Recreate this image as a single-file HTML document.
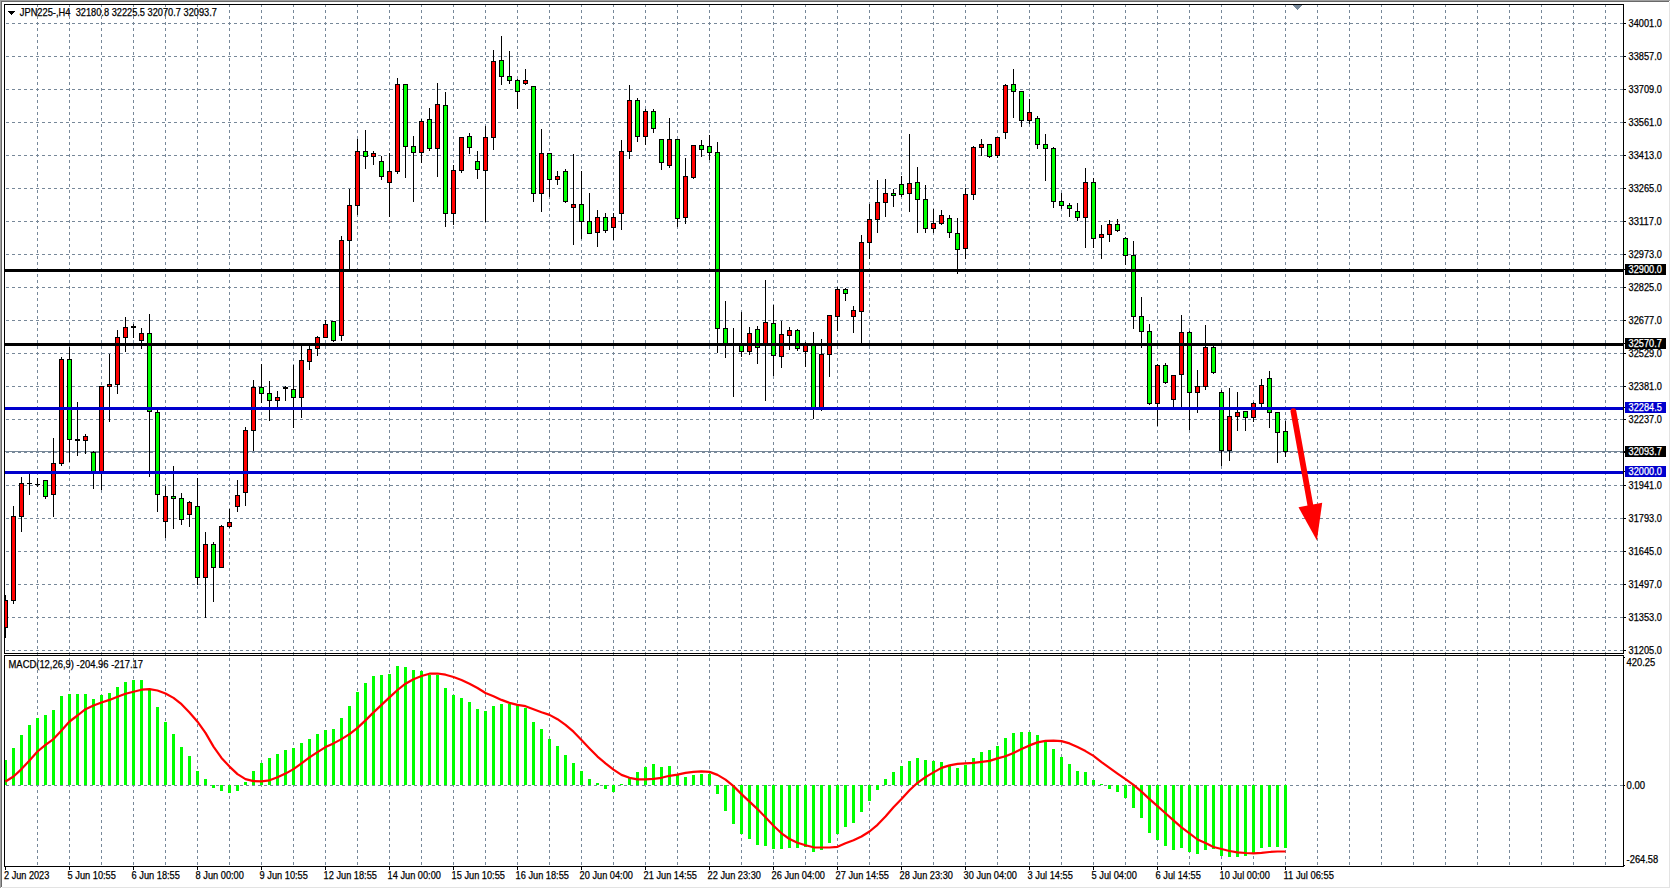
<!DOCTYPE html>
<html><head><meta charset="utf-8"><title>JPN225-,H4</title>
<style>
html,body{margin:0;padding:0;background:#fff;}
body{width:1671px;height:889px;overflow:hidden;}
svg{display:block;}
text{font-family:"Liberation Sans",Arial,sans-serif;font-size:10.2px;fill:#000;stroke:#000;stroke-width:0.25px;}
.w{fill:#fff;stroke:#fff;}
</style></head><body>
<svg width="1671" height="889" viewBox="0 0 1671 889" shape-rendering="crispEdges">
<rect x="0" y="0" width="1671" height="889" fill="#fff"/>
<g stroke="#778899" stroke-width="1" stroke-dasharray="3 3" fill="none">
<line x1="0" y1="23.5" x2="1623" y2="23.5"/>
<line x1="0" y1="56.5" x2="1623" y2="56.5"/>
<line x1="0" y1="89.5" x2="1623" y2="89.5"/>
<line x1="0" y1="122.5" x2="1623" y2="122.5"/>
<line x1="0" y1="155.5" x2="1623" y2="155.5"/>
<line x1="0" y1="188.5" x2="1623" y2="188.5"/>
<line x1="0" y1="221.5" x2="1623" y2="221.5"/>
<line x1="0" y1="254.5" x2="1623" y2="254.5"/>
<line x1="0" y1="287.5" x2="1623" y2="287.5"/>
<line x1="0" y1="320.5" x2="1623" y2="320.5"/>
<line x1="0" y1="353.5" x2="1623" y2="353.5"/>
<line x1="0" y1="386.5" x2="1623" y2="386.5"/>
<line x1="0" y1="419.5" x2="1623" y2="419.5"/>
<line x1="0" y1="452.5" x2="1623" y2="452.5"/>
<line x1="0" y1="485.5" x2="1623" y2="485.5"/>
<line x1="0" y1="518.5" x2="1623" y2="518.5"/>
<line x1="0" y1="551.5" x2="1623" y2="551.5"/>
<line x1="0" y1="584.5" x2="1623" y2="584.5"/>
<line x1="0" y1="617.5" x2="1623" y2="617.5"/>
<line x1="0" y1="650.5" x2="1623" y2="650.5"/>
<line x1="0" y1="785.5" x2="1623" y2="785.5"/>
<line x1="37.5" y1="4" x2="37.5" y2="866"/>
<line x1="69.5" y1="4" x2="69.5" y2="866"/>
<line x1="101.5" y1="4" x2="101.5" y2="866"/>
<line x1="133.5" y1="4" x2="133.5" y2="866"/>
<line x1="165.5" y1="4" x2="165.5" y2="866"/>
<line x1="197.5" y1="4" x2="197.5" y2="866"/>
<line x1="229.5" y1="4" x2="229.5" y2="866"/>
<line x1="261.5" y1="4" x2="261.5" y2="866"/>
<line x1="293.5" y1="4" x2="293.5" y2="866"/>
<line x1="325.5" y1="4" x2="325.5" y2="866"/>
<line x1="357.5" y1="4" x2="357.5" y2="866"/>
<line x1="389.5" y1="4" x2="389.5" y2="866"/>
<line x1="421.5" y1="4" x2="421.5" y2="866"/>
<line x1="453.5" y1="4" x2="453.5" y2="866"/>
<line x1="485.5" y1="4" x2="485.5" y2="866"/>
<line x1="517.5" y1="4" x2="517.5" y2="866"/>
<line x1="549.5" y1="4" x2="549.5" y2="866"/>
<line x1="581.5" y1="4" x2="581.5" y2="866"/>
<line x1="613.5" y1="4" x2="613.5" y2="866"/>
<line x1="645.5" y1="4" x2="645.5" y2="866"/>
<line x1="677.5" y1="4" x2="677.5" y2="866"/>
<line x1="709.5" y1="4" x2="709.5" y2="866"/>
<line x1="741.5" y1="4" x2="741.5" y2="866"/>
<line x1="773.5" y1="4" x2="773.5" y2="866"/>
<line x1="805.5" y1="4" x2="805.5" y2="866"/>
<line x1="837.5" y1="4" x2="837.5" y2="866"/>
<line x1="869.5" y1="4" x2="869.5" y2="866"/>
<line x1="901.5" y1="4" x2="901.5" y2="866"/>
<line x1="933.5" y1="4" x2="933.5" y2="866"/>
<line x1="965.5" y1="4" x2="965.5" y2="866"/>
<line x1="997.5" y1="4" x2="997.5" y2="866"/>
<line x1="1029.5" y1="4" x2="1029.5" y2="866"/>
<line x1="1061.5" y1="4" x2="1061.5" y2="866"/>
<line x1="1093.5" y1="4" x2="1093.5" y2="866"/>
<line x1="1125.5" y1="4" x2="1125.5" y2="866"/>
<line x1="1157.5" y1="4" x2="1157.5" y2="866"/>
<line x1="1189.5" y1="4" x2="1189.5" y2="866"/>
<line x1="1221.5" y1="4" x2="1221.5" y2="866"/>
<line x1="1253.5" y1="4" x2="1253.5" y2="866"/>
<line x1="1285.5" y1="4" x2="1285.5" y2="866"/>
<line x1="1317.5" y1="4" x2="1317.5" y2="866"/>
<line x1="1349.5" y1="4" x2="1349.5" y2="866"/>
<line x1="1381.5" y1="4" x2="1381.5" y2="866"/>
<line x1="1413.5" y1="4" x2="1413.5" y2="866"/>
<line x1="1445.5" y1="4" x2="1445.5" y2="866"/>
<line x1="1477.5" y1="4" x2="1477.5" y2="866"/>
<line x1="1509.5" y1="4" x2="1509.5" y2="866"/>
<line x1="1541.5" y1="4" x2="1541.5" y2="866"/>
<line x1="1573.5" y1="4" x2="1573.5" y2="866"/>
<line x1="1605.5" y1="4" x2="1605.5" y2="866"/>
</g>
<rect x="5" y="451" width="1618" height="1" fill="#778899"/>
<g>
<rect x="5" y="595" width="1" height="43" fill="#000"/>
<rect x="3" y="600" width="5" height="28" fill="#000"/>
<rect x="4" y="601" width="3" height="26" fill="#ff0000"/>
<rect x="13" y="506" width="1" height="98" fill="#000"/>
<rect x="11" y="516" width="5" height="85" fill="#000"/>
<rect x="12" y="517" width="3" height="83" fill="#ff0000"/>
<rect x="21" y="477" width="1" height="55" fill="#000"/>
<rect x="19" y="483" width="5" height="34" fill="#000"/>
<rect x="20" y="484" width="3" height="32" fill="#ff0000"/>
<rect x="29" y="474" width="1" height="21" fill="#000"/>
<rect x="27" y="483" width="5" height="1" fill="#000"/>
<rect x="37" y="478" width="1" height="9" fill="#000"/>
<rect x="35" y="484" width="5" height="1" fill="#000"/>
<rect x="45" y="480" width="1" height="19" fill="#000"/>
<rect x="43" y="480" width="5" height="17" fill="#000"/>
<rect x="44" y="481" width="3" height="15" fill="#00ff00"/>
<rect x="53" y="438" width="1" height="79" fill="#000"/>
<rect x="51" y="463" width="5" height="32" fill="#000"/>
<rect x="52" y="464" width="3" height="30" fill="#ff0000"/>
<rect x="61" y="357" width="1" height="109" fill="#000"/>
<rect x="59" y="359" width="5" height="105" fill="#000"/>
<rect x="60" y="360" width="3" height="103" fill="#ff0000"/>
<rect x="69" y="347" width="1" height="115" fill="#000"/>
<rect x="67" y="359" width="5" height="81" fill="#000"/>
<rect x="68" y="360" width="3" height="79" fill="#00ff00"/>
<rect x="77" y="402" width="1" height="54" fill="#000"/>
<rect x="75" y="439" width="5" height="2" fill="#000"/>
<rect x="85" y="434" width="1" height="20" fill="#000"/>
<rect x="83" y="436" width="5" height="5" fill="#000"/>
<rect x="84" y="437" width="3" height="3" fill="#ff0000"/>
<rect x="93" y="451" width="1" height="38" fill="#000"/>
<rect x="91" y="452" width="5" height="20" fill="#000"/>
<rect x="92" y="453" width="3" height="18" fill="#00ff00"/>
<rect x="101" y="386" width="1" height="104" fill="#000"/>
<rect x="99" y="386" width="5" height="86" fill="#000"/>
<rect x="100" y="387" width="3" height="84" fill="#ff0000"/>
<rect x="109" y="354" width="1" height="68" fill="#000"/>
<rect x="107" y="384" width="5" height="3" fill="#000"/>
<rect x="108" y="385" width="3" height="1" fill="#ff0000"/>
<rect x="117" y="330" width="1" height="64" fill="#000"/>
<rect x="115" y="337" width="5" height="48" fill="#000"/>
<rect x="116" y="338" width="3" height="46" fill="#ff0000"/>
<rect x="125" y="317" width="1" height="35" fill="#000"/>
<rect x="123" y="327" width="5" height="11" fill="#000"/>
<rect x="124" y="328" width="3" height="9" fill="#ff0000"/>
<rect x="133" y="324" width="1" height="14" fill="#000"/>
<rect x="131" y="326" width="5" height="2" fill="#000"/>
<rect x="141" y="328" width="1" height="21" fill="#000"/>
<rect x="139" y="333" width="5" height="8" fill="#000"/>
<rect x="140" y="334" width="3" height="6" fill="#ff0000"/>
<rect x="149" y="314" width="1" height="163" fill="#000"/>
<rect x="147" y="333" width="5" height="79" fill="#000"/>
<rect x="148" y="334" width="3" height="77" fill="#00ff00"/>
<rect x="157" y="410" width="1" height="102" fill="#000"/>
<rect x="155" y="412" width="5" height="83" fill="#000"/>
<rect x="156" y="413" width="3" height="81" fill="#00ff00"/>
<rect x="165" y="486" width="1" height="52" fill="#000"/>
<rect x="163" y="496" width="5" height="26" fill="#000"/>
<rect x="164" y="497" width="3" height="24" fill="#ff0000"/>
<rect x="173" y="466" width="1" height="63" fill="#000"/>
<rect x="171" y="496" width="5" height="3" fill="#000"/>
<rect x="172" y="497" width="3" height="1" fill="#00ff00"/>
<rect x="181" y="493" width="1" height="32" fill="#000"/>
<rect x="179" y="498" width="5" height="22" fill="#000"/>
<rect x="180" y="499" width="3" height="20" fill="#00ff00"/>
<rect x="189" y="501" width="1" height="26" fill="#000"/>
<rect x="187" y="502" width="5" height="13" fill="#000"/>
<rect x="188" y="503" width="3" height="11" fill="#ff0000"/>
<rect x="197" y="478" width="1" height="107" fill="#000"/>
<rect x="195" y="506" width="5" height="72" fill="#000"/>
<rect x="196" y="507" width="3" height="70" fill="#00ff00"/>
<rect x="205" y="532" width="1" height="86" fill="#000"/>
<rect x="203" y="544" width="5" height="34" fill="#000"/>
<rect x="204" y="545" width="3" height="32" fill="#ff0000"/>
<rect x="213" y="542" width="1" height="60" fill="#000"/>
<rect x="211" y="544" width="5" height="24" fill="#000"/>
<rect x="212" y="545" width="3" height="22" fill="#00ff00"/>
<rect x="221" y="525" width="1" height="43" fill="#000"/>
<rect x="219" y="526" width="5" height="42" fill="#000"/>
<rect x="220" y="527" width="3" height="40" fill="#ff0000"/>
<rect x="229" y="509" width="1" height="19" fill="#000"/>
<rect x="227" y="522" width="5" height="5" fill="#000"/>
<rect x="228" y="523" width="3" height="3" fill="#ff0000"/>
<rect x="237" y="480" width="1" height="32" fill="#000"/>
<rect x="235" y="495" width="5" height="12" fill="#000"/>
<rect x="236" y="496" width="3" height="10" fill="#ff0000"/>
<rect x="245" y="427" width="1" height="79" fill="#000"/>
<rect x="243" y="430" width="5" height="63" fill="#000"/>
<rect x="244" y="431" width="3" height="61" fill="#ff0000"/>
<rect x="253" y="380" width="1" height="71" fill="#000"/>
<rect x="251" y="387" width="5" height="44" fill="#000"/>
<rect x="252" y="388" width="3" height="42" fill="#ff0000"/>
<rect x="261" y="364" width="1" height="39" fill="#000"/>
<rect x="259" y="387" width="5" height="7" fill="#000"/>
<rect x="260" y="388" width="3" height="5" fill="#00ff00"/>
<rect x="269" y="381" width="1" height="40" fill="#000"/>
<rect x="267" y="393" width="5" height="8" fill="#000"/>
<rect x="268" y="394" width="3" height="6" fill="#00ff00"/>
<rect x="277" y="391" width="1" height="17" fill="#000"/>
<rect x="275" y="397" width="5" height="4" fill="#000"/>
<rect x="276" y="398" width="3" height="2" fill="#ff0000"/>
<rect x="285" y="386" width="1" height="15" fill="#000"/>
<rect x="283" y="387" width="5" height="2" fill="#000"/>
<rect x="293" y="365" width="1" height="63" fill="#000"/>
<rect x="291" y="389" width="5" height="9" fill="#000"/>
<rect x="292" y="390" width="3" height="7" fill="#00ff00"/>
<rect x="301" y="345" width="1" height="73" fill="#000"/>
<rect x="299" y="360" width="5" height="38" fill="#000"/>
<rect x="300" y="361" width="3" height="36" fill="#ff0000"/>
<rect x="309" y="345" width="1" height="25" fill="#000"/>
<rect x="307" y="349" width="5" height="13" fill="#000"/>
<rect x="308" y="350" width="3" height="11" fill="#ff0000"/>
<rect x="317" y="336" width="1" height="20" fill="#000"/>
<rect x="315" y="337" width="5" height="12" fill="#000"/>
<rect x="316" y="338" width="3" height="10" fill="#ff0000"/>
<rect x="325" y="320" width="1" height="18" fill="#000"/>
<rect x="323" y="324" width="5" height="14" fill="#000"/>
<rect x="324" y="325" width="3" height="12" fill="#ff0000"/>
<rect x="333" y="321" width="1" height="21" fill="#000"/>
<rect x="331" y="321" width="5" height="20" fill="#000"/>
<rect x="332" y="322" width="3" height="18" fill="#00ff00"/>
<rect x="341" y="236" width="1" height="105" fill="#000"/>
<rect x="339" y="240" width="5" height="96" fill="#000"/>
<rect x="340" y="241" width="3" height="94" fill="#ff0000"/>
<rect x="349" y="189" width="1" height="82" fill="#000"/>
<rect x="347" y="205" width="5" height="36" fill="#000"/>
<rect x="348" y="206" width="3" height="34" fill="#ff0000"/>
<rect x="357" y="139" width="1" height="76" fill="#000"/>
<rect x="355" y="151" width="5" height="55" fill="#000"/>
<rect x="356" y="152" width="3" height="53" fill="#ff0000"/>
<rect x="365" y="130" width="1" height="39" fill="#000"/>
<rect x="363" y="151" width="5" height="6" fill="#000"/>
<rect x="364" y="152" width="3" height="4" fill="#00ff00"/>
<rect x="373" y="151" width="1" height="14" fill="#000"/>
<rect x="371" y="153" width="5" height="4" fill="#000"/>
<rect x="372" y="154" width="3" height="2" fill="#ff0000"/>
<rect x="381" y="156" width="1" height="24" fill="#000"/>
<rect x="379" y="161" width="5" height="16" fill="#000"/>
<rect x="380" y="162" width="3" height="14" fill="#00ff00"/>
<rect x="389" y="153" width="1" height="64" fill="#000"/>
<rect x="387" y="171" width="5" height="12" fill="#000"/>
<rect x="388" y="172" width="3" height="10" fill="#ff0000"/>
<rect x="397" y="78" width="1" height="96" fill="#000"/>
<rect x="395" y="84" width="5" height="88" fill="#000"/>
<rect x="396" y="85" width="3" height="86" fill="#ff0000"/>
<rect x="405" y="84" width="1" height="94" fill="#000"/>
<rect x="403" y="84" width="5" height="63" fill="#000"/>
<rect x="404" y="85" width="3" height="61" fill="#00ff00"/>
<rect x="413" y="136" width="1" height="66" fill="#000"/>
<rect x="411" y="146" width="5" height="7" fill="#000"/>
<rect x="412" y="147" width="3" height="5" fill="#00ff00"/>
<rect x="421" y="119" width="1" height="44" fill="#000"/>
<rect x="419" y="121" width="5" height="32" fill="#000"/>
<rect x="420" y="122" width="3" height="30" fill="#ff0000"/>
<rect x="429" y="108" width="1" height="43" fill="#000"/>
<rect x="427" y="119" width="5" height="30" fill="#000"/>
<rect x="428" y="120" width="3" height="28" fill="#00ff00"/>
<rect x="437" y="83" width="1" height="94" fill="#000"/>
<rect x="435" y="104" width="5" height="45" fill="#000"/>
<rect x="436" y="105" width="3" height="43" fill="#ff0000"/>
<rect x="445" y="92" width="1" height="135" fill="#000"/>
<rect x="443" y="105" width="5" height="109" fill="#000"/>
<rect x="444" y="106" width="3" height="107" fill="#00ff00"/>
<rect x="453" y="165" width="1" height="60" fill="#000"/>
<rect x="451" y="170" width="5" height="44" fill="#000"/>
<rect x="452" y="171" width="3" height="42" fill="#ff0000"/>
<rect x="461" y="137" width="1" height="36" fill="#000"/>
<rect x="459" y="137" width="5" height="34" fill="#000"/>
<rect x="460" y="138" width="3" height="32" fill="#ff0000"/>
<rect x="469" y="133" width="1" height="21" fill="#000"/>
<rect x="467" y="136" width="5" height="12" fill="#000"/>
<rect x="468" y="137" width="3" height="10" fill="#00ff00"/>
<rect x="477" y="151" width="1" height="28" fill="#000"/>
<rect x="475" y="161" width="5" height="9" fill="#000"/>
<rect x="476" y="162" width="3" height="7" fill="#00ff00"/>
<rect x="485" y="126" width="1" height="96" fill="#000"/>
<rect x="483" y="137" width="5" height="34" fill="#000"/>
<rect x="484" y="138" width="3" height="32" fill="#ff0000"/>
<rect x="493" y="50" width="1" height="100" fill="#000"/>
<rect x="491" y="61" width="5" height="77" fill="#000"/>
<rect x="492" y="62" width="3" height="75" fill="#ff0000"/>
<rect x="501" y="36" width="1" height="49" fill="#000"/>
<rect x="499" y="60" width="5" height="17" fill="#000"/>
<rect x="500" y="61" width="3" height="15" fill="#00ff00"/>
<rect x="509" y="51" width="1" height="33" fill="#000"/>
<rect x="507" y="76" width="5" height="5" fill="#000"/>
<rect x="508" y="77" width="3" height="3" fill="#00ff00"/>
<rect x="517" y="79" width="1" height="30" fill="#000"/>
<rect x="515" y="80" width="5" height="12" fill="#000"/>
<rect x="516" y="81" width="3" height="10" fill="#00ff00"/>
<rect x="525" y="69" width="1" height="16" fill="#000"/>
<rect x="523" y="80" width="5" height="4" fill="#000"/>
<rect x="524" y="81" width="3" height="2" fill="#ff0000"/>
<rect x="533" y="86" width="1" height="116" fill="#000"/>
<rect x="531" y="86" width="5" height="108" fill="#000"/>
<rect x="532" y="87" width="3" height="106" fill="#00ff00"/>
<rect x="541" y="129" width="1" height="83" fill="#000"/>
<rect x="539" y="153" width="5" height="41" fill="#000"/>
<rect x="540" y="154" width="3" height="39" fill="#ff0000"/>
<rect x="549" y="153" width="1" height="44" fill="#000"/>
<rect x="547" y="153" width="5" height="27" fill="#000"/>
<rect x="548" y="154" width="3" height="25" fill="#00ff00"/>
<rect x="557" y="171" width="1" height="14" fill="#000"/>
<rect x="555" y="176" width="5" height="4" fill="#000"/>
<rect x="556" y="177" width="3" height="2" fill="#ff0000"/>
<rect x="565" y="169" width="1" height="34" fill="#000"/>
<rect x="563" y="171" width="5" height="31" fill="#000"/>
<rect x="564" y="172" width="3" height="29" fill="#00ff00"/>
<rect x="573" y="154" width="1" height="91" fill="#000"/>
<rect x="571" y="204" width="5" height="4" fill="#000"/>
<rect x="572" y="205" width="3" height="2" fill="#ff0000"/>
<rect x="581" y="171" width="1" height="68" fill="#000"/>
<rect x="579" y="204" width="5" height="18" fill="#000"/>
<rect x="580" y="205" width="3" height="16" fill="#00ff00"/>
<rect x="589" y="193" width="1" height="41" fill="#000"/>
<rect x="587" y="221" width="5" height="13" fill="#000"/>
<rect x="588" y="222" width="3" height="11" fill="#00ff00"/>
<rect x="597" y="210" width="1" height="37" fill="#000"/>
<rect x="595" y="217" width="5" height="16" fill="#000"/>
<rect x="596" y="218" width="3" height="14" fill="#ff0000"/>
<rect x="605" y="213" width="1" height="20" fill="#000"/>
<rect x="603" y="217" width="5" height="14" fill="#000"/>
<rect x="604" y="218" width="3" height="12" fill="#00ff00"/>
<rect x="613" y="213" width="1" height="27" fill="#000"/>
<rect x="611" y="217" width="5" height="11" fill="#000"/>
<rect x="612" y="218" width="3" height="9" fill="#ff0000"/>
<rect x="621" y="140" width="1" height="90" fill="#000"/>
<rect x="619" y="151" width="5" height="63" fill="#000"/>
<rect x="620" y="152" width="3" height="61" fill="#ff0000"/>
<rect x="629" y="85" width="1" height="74" fill="#000"/>
<rect x="627" y="100" width="5" height="52" fill="#000"/>
<rect x="628" y="101" width="3" height="50" fill="#ff0000"/>
<rect x="637" y="98" width="1" height="44" fill="#000"/>
<rect x="635" y="100" width="5" height="37" fill="#000"/>
<rect x="636" y="101" width="3" height="35" fill="#00ff00"/>
<rect x="645" y="109" width="1" height="36" fill="#000"/>
<rect x="643" y="111" width="5" height="26" fill="#000"/>
<rect x="644" y="112" width="3" height="24" fill="#ff0000"/>
<rect x="653" y="109" width="1" height="24" fill="#000"/>
<rect x="651" y="111" width="5" height="18" fill="#000"/>
<rect x="652" y="112" width="3" height="16" fill="#00ff00"/>
<rect x="661" y="139" width="1" height="31" fill="#000"/>
<rect x="659" y="139" width="5" height="24" fill="#000"/>
<rect x="660" y="140" width="3" height="22" fill="#00ff00"/>
<rect x="669" y="118" width="1" height="50" fill="#000"/>
<rect x="667" y="139" width="5" height="27" fill="#000"/>
<rect x="668" y="140" width="3" height="25" fill="#ff0000"/>
<rect x="677" y="139" width="1" height="88" fill="#000"/>
<rect x="675" y="139" width="5" height="80" fill="#000"/>
<rect x="676" y="140" width="3" height="78" fill="#00ff00"/>
<rect x="685" y="158" width="1" height="66" fill="#000"/>
<rect x="683" y="176" width="5" height="42" fill="#000"/>
<rect x="684" y="177" width="3" height="40" fill="#ff0000"/>
<rect x="693" y="145" width="1" height="34" fill="#000"/>
<rect x="691" y="145" width="5" height="33" fill="#000"/>
<rect x="692" y="146" width="3" height="31" fill="#ff0000"/>
<rect x="701" y="140" width="1" height="17" fill="#000"/>
<rect x="699" y="145" width="5" height="5" fill="#000"/>
<rect x="700" y="146" width="3" height="3" fill="#00ff00"/>
<rect x="709" y="135" width="1" height="25" fill="#000"/>
<rect x="707" y="146" width="5" height="7" fill="#000"/>
<rect x="708" y="147" width="3" height="5" fill="#00ff00"/>
<rect x="717" y="142" width="1" height="211" fill="#000"/>
<rect x="715" y="152" width="5" height="177" fill="#000"/>
<rect x="716" y="153" width="3" height="175" fill="#00ff00"/>
<rect x="725" y="301" width="1" height="57" fill="#000"/>
<rect x="723" y="328" width="5" height="17" fill="#000"/>
<rect x="724" y="329" width="3" height="15" fill="#00ff00"/>
<rect x="733" y="328" width="1" height="69" fill="#000"/>
<rect x="731" y="344" width="5" height="1" fill="#000"/>
<rect x="741" y="312" width="1" height="45" fill="#000"/>
<rect x="739" y="344" width="5" height="8" fill="#000"/>
<rect x="740" y="345" width="3" height="6" fill="#00ff00"/>
<rect x="749" y="327" width="1" height="28" fill="#000"/>
<rect x="747" y="333" width="5" height="19" fill="#000"/>
<rect x="748" y="334" width="3" height="17" fill="#ff0000"/>
<rect x="757" y="326" width="1" height="38" fill="#000"/>
<rect x="755" y="329" width="5" height="19" fill="#000"/>
<rect x="756" y="330" width="3" height="17" fill="#00ff00"/>
<rect x="765" y="280" width="1" height="121" fill="#000"/>
<rect x="763" y="322" width="5" height="24" fill="#000"/>
<rect x="764" y="323" width="3" height="22" fill="#ff0000"/>
<rect x="773" y="305" width="1" height="71" fill="#000"/>
<rect x="771" y="323" width="5" height="33" fill="#000"/>
<rect x="772" y="324" width="3" height="31" fill="#00ff00"/>
<rect x="781" y="321" width="1" height="47" fill="#000"/>
<rect x="779" y="334" width="5" height="23" fill="#000"/>
<rect x="780" y="335" width="3" height="21" fill="#ff0000"/>
<rect x="789" y="327" width="1" height="23" fill="#000"/>
<rect x="787" y="330" width="5" height="6" fill="#000"/>
<rect x="788" y="331" width="3" height="4" fill="#ff0000"/>
<rect x="797" y="329" width="1" height="22" fill="#000"/>
<rect x="795" y="330" width="5" height="19" fill="#000"/>
<rect x="796" y="331" width="3" height="17" fill="#00ff00"/>
<rect x="805" y="342" width="1" height="25" fill="#000"/>
<rect x="803" y="343" width="5" height="9" fill="#000"/>
<rect x="804" y="344" width="3" height="7" fill="#ff0000"/>
<rect x="813" y="332" width="1" height="87" fill="#000"/>
<rect x="811" y="344" width="5" height="65" fill="#000"/>
<rect x="812" y="345" width="3" height="63" fill="#00ff00"/>
<rect x="821" y="339" width="1" height="72" fill="#000"/>
<rect x="819" y="354" width="5" height="55" fill="#000"/>
<rect x="820" y="355" width="3" height="53" fill="#ff0000"/>
<rect x="829" y="315" width="1" height="62" fill="#000"/>
<rect x="827" y="315" width="5" height="40" fill="#000"/>
<rect x="828" y="316" width="3" height="38" fill="#ff0000"/>
<rect x="837" y="287" width="1" height="44" fill="#000"/>
<rect x="835" y="289" width="5" height="28" fill="#000"/>
<rect x="836" y="290" width="3" height="26" fill="#ff0000"/>
<rect x="845" y="288" width="1" height="13" fill="#000"/>
<rect x="843" y="289" width="5" height="5" fill="#000"/>
<rect x="844" y="290" width="3" height="3" fill="#00ff00"/>
<rect x="853" y="306" width="1" height="27" fill="#000"/>
<rect x="851" y="310" width="5" height="7" fill="#000"/>
<rect x="852" y="311" width="3" height="5" fill="#ff0000"/>
<rect x="861" y="235" width="1" height="110" fill="#000"/>
<rect x="859" y="242" width="5" height="70" fill="#000"/>
<rect x="860" y="243" width="3" height="68" fill="#ff0000"/>
<rect x="869" y="204" width="1" height="55" fill="#000"/>
<rect x="867" y="219" width="5" height="24" fill="#000"/>
<rect x="868" y="220" width="3" height="22" fill="#ff0000"/>
<rect x="877" y="180" width="1" height="53" fill="#000"/>
<rect x="875" y="202" width="5" height="18" fill="#000"/>
<rect x="876" y="203" width="3" height="16" fill="#ff0000"/>
<rect x="885" y="179" width="1" height="38" fill="#000"/>
<rect x="883" y="193" width="5" height="10" fill="#000"/>
<rect x="884" y="194" width="3" height="8" fill="#ff0000"/>
<rect x="893" y="189" width="1" height="18" fill="#000"/>
<rect x="891" y="193" width="5" height="3" fill="#000"/>
<rect x="892" y="194" width="3" height="1" fill="#00ff00"/>
<rect x="901" y="176" width="1" height="21" fill="#000"/>
<rect x="899" y="184" width="5" height="11" fill="#000"/>
<rect x="900" y="185" width="3" height="9" fill="#00ff00"/>
<rect x="909" y="134" width="1" height="78" fill="#000"/>
<rect x="907" y="183" width="5" height="11" fill="#000"/>
<rect x="908" y="184" width="3" height="9" fill="#ff0000"/>
<rect x="917" y="167" width="1" height="66" fill="#000"/>
<rect x="915" y="182" width="5" height="18" fill="#000"/>
<rect x="916" y="183" width="3" height="16" fill="#00ff00"/>
<rect x="925" y="185" width="1" height="48" fill="#000"/>
<rect x="923" y="199" width="5" height="30" fill="#000"/>
<rect x="924" y="200" width="3" height="28" fill="#00ff00"/>
<rect x="933" y="209" width="1" height="24" fill="#000"/>
<rect x="931" y="223" width="5" height="6" fill="#000"/>
<rect x="932" y="224" width="3" height="4" fill="#ff0000"/>
<rect x="941" y="210" width="1" height="15" fill="#000"/>
<rect x="939" y="215" width="5" height="9" fill="#000"/>
<rect x="940" y="216" width="3" height="7" fill="#ff0000"/>
<rect x="949" y="215" width="1" height="23" fill="#000"/>
<rect x="947" y="218" width="5" height="15" fill="#000"/>
<rect x="948" y="219" width="3" height="13" fill="#00ff00"/>
<rect x="957" y="218" width="1" height="56" fill="#000"/>
<rect x="955" y="233" width="5" height="17" fill="#000"/>
<rect x="956" y="234" width="3" height="15" fill="#00ff00"/>
<rect x="965" y="188" width="1" height="71" fill="#000"/>
<rect x="963" y="194" width="5" height="55" fill="#000"/>
<rect x="964" y="195" width="3" height="53" fill="#ff0000"/>
<rect x="973" y="146" width="1" height="54" fill="#000"/>
<rect x="971" y="147" width="5" height="48" fill="#000"/>
<rect x="972" y="148" width="3" height="46" fill="#ff0000"/>
<rect x="981" y="139" width="1" height="17" fill="#000"/>
<rect x="979" y="144" width="5" height="4" fill="#000"/>
<rect x="980" y="145" width="3" height="2" fill="#ff0000"/>
<rect x="989" y="144" width="1" height="14" fill="#000"/>
<rect x="987" y="144" width="5" height="13" fill="#000"/>
<rect x="988" y="145" width="3" height="11" fill="#00ff00"/>
<rect x="997" y="137" width="1" height="21" fill="#000"/>
<rect x="995" y="137" width="5" height="19" fill="#000"/>
<rect x="996" y="138" width="3" height="17" fill="#ff0000"/>
<rect x="1005" y="84" width="1" height="55" fill="#000"/>
<rect x="1003" y="85" width="5" height="48" fill="#000"/>
<rect x="1004" y="86" width="3" height="46" fill="#ff0000"/>
<rect x="1013" y="69" width="1" height="49" fill="#000"/>
<rect x="1011" y="84" width="5" height="8" fill="#000"/>
<rect x="1012" y="85" width="3" height="6" fill="#00ff00"/>
<rect x="1021" y="91" width="1" height="36" fill="#000"/>
<rect x="1019" y="91" width="5" height="30" fill="#000"/>
<rect x="1020" y="92" width="3" height="28" fill="#00ff00"/>
<rect x="1029" y="99" width="1" height="25" fill="#000"/>
<rect x="1027" y="112" width="5" height="9" fill="#000"/>
<rect x="1028" y="113" width="3" height="7" fill="#ff0000"/>
<rect x="1037" y="116" width="1" height="33" fill="#000"/>
<rect x="1035" y="118" width="5" height="27" fill="#000"/>
<rect x="1036" y="119" width="3" height="25" fill="#00ff00"/>
<rect x="1045" y="134" width="1" height="47" fill="#000"/>
<rect x="1043" y="144" width="5" height="5" fill="#000"/>
<rect x="1044" y="145" width="3" height="3" fill="#00ff00"/>
<rect x="1053" y="147" width="1" height="61" fill="#000"/>
<rect x="1051" y="148" width="5" height="54" fill="#000"/>
<rect x="1052" y="149" width="3" height="52" fill="#00ff00"/>
<rect x="1061" y="193" width="1" height="16" fill="#000"/>
<rect x="1059" y="201" width="5" height="5" fill="#000"/>
<rect x="1060" y="202" width="3" height="3" fill="#00ff00"/>
<rect x="1069" y="203" width="1" height="14" fill="#000"/>
<rect x="1067" y="205" width="5" height="4" fill="#000"/>
<rect x="1068" y="206" width="3" height="2" fill="#00ff00"/>
<rect x="1077" y="203" width="1" height="18" fill="#000"/>
<rect x="1075" y="211" width="5" height="7" fill="#000"/>
<rect x="1076" y="212" width="3" height="5" fill="#00ff00"/>
<rect x="1085" y="168" width="1" height="80" fill="#000"/>
<rect x="1083" y="182" width="5" height="36" fill="#000"/>
<rect x="1084" y="183" width="3" height="34" fill="#ff0000"/>
<rect x="1093" y="178" width="1" height="70" fill="#000"/>
<rect x="1091" y="182" width="5" height="57" fill="#000"/>
<rect x="1092" y="183" width="3" height="55" fill="#00ff00"/>
<rect x="1101" y="225" width="1" height="34" fill="#000"/>
<rect x="1099" y="234" width="5" height="4" fill="#000"/>
<rect x="1100" y="235" width="3" height="2" fill="#ff0000"/>
<rect x="1109" y="220" width="1" height="22" fill="#000"/>
<rect x="1107" y="224" width="5" height="11" fill="#000"/>
<rect x="1108" y="225" width="3" height="9" fill="#ff0000"/>
<rect x="1117" y="219" width="1" height="13" fill="#000"/>
<rect x="1115" y="224" width="5" height="7" fill="#000"/>
<rect x="1116" y="225" width="3" height="5" fill="#00ff00"/>
<rect x="1125" y="237" width="1" height="28" fill="#000"/>
<rect x="1123" y="238" width="5" height="18" fill="#000"/>
<rect x="1124" y="239" width="3" height="16" fill="#00ff00"/>
<rect x="1133" y="241" width="1" height="88" fill="#000"/>
<rect x="1131" y="255" width="5" height="62" fill="#000"/>
<rect x="1132" y="256" width="3" height="60" fill="#00ff00"/>
<rect x="1141" y="297" width="1" height="51" fill="#000"/>
<rect x="1139" y="316" width="5" height="16" fill="#000"/>
<rect x="1140" y="317" width="3" height="14" fill="#00ff00"/>
<rect x="1149" y="324" width="1" height="81" fill="#000"/>
<rect x="1147" y="331" width="5" height="73" fill="#000"/>
<rect x="1148" y="332" width="3" height="71" fill="#00ff00"/>
<rect x="1157" y="364" width="1" height="62" fill="#000"/>
<rect x="1155" y="365" width="5" height="39" fill="#000"/>
<rect x="1156" y="366" width="3" height="37" fill="#ff0000"/>
<rect x="1165" y="363" width="1" height="21" fill="#000"/>
<rect x="1163" y="365" width="5" height="18" fill="#000"/>
<rect x="1164" y="366" width="3" height="16" fill="#00ff00"/>
<rect x="1173" y="375" width="1" height="34" fill="#000"/>
<rect x="1171" y="375" width="5" height="25" fill="#000"/>
<rect x="1172" y="376" width="3" height="23" fill="#ff0000"/>
<rect x="1181" y="315" width="1" height="94" fill="#000"/>
<rect x="1179" y="332" width="5" height="43" fill="#000"/>
<rect x="1180" y="333" width="3" height="41" fill="#ff0000"/>
<rect x="1189" y="331" width="1" height="99" fill="#000"/>
<rect x="1187" y="332" width="5" height="61" fill="#000"/>
<rect x="1188" y="333" width="3" height="59" fill="#00ff00"/>
<rect x="1197" y="370" width="1" height="43" fill="#000"/>
<rect x="1195" y="386" width="5" height="7" fill="#000"/>
<rect x="1196" y="387" width="3" height="5" fill="#ff0000"/>
<rect x="1205" y="325" width="1" height="65" fill="#000"/>
<rect x="1203" y="347" width="5" height="40" fill="#000"/>
<rect x="1204" y="348" width="3" height="38" fill="#ff0000"/>
<rect x="1213" y="346" width="1" height="28" fill="#000"/>
<rect x="1211" y="347" width="5" height="26" fill="#000"/>
<rect x="1212" y="348" width="3" height="24" fill="#00ff00"/>
<rect x="1221" y="390" width="1" height="76" fill="#000"/>
<rect x="1219" y="392" width="5" height="59" fill="#000"/>
<rect x="1220" y="393" width="3" height="57" fill="#00ff00"/>
<rect x="1229" y="388" width="1" height="73" fill="#000"/>
<rect x="1227" y="416" width="5" height="35" fill="#000"/>
<rect x="1228" y="417" width="3" height="33" fill="#ff0000"/>
<rect x="1237" y="392" width="1" height="39" fill="#000"/>
<rect x="1235" y="412" width="5" height="5" fill="#000"/>
<rect x="1236" y="413" width="3" height="3" fill="#ff0000"/>
<rect x="1245" y="411" width="1" height="20" fill="#000"/>
<rect x="1243" y="411" width="5" height="7" fill="#000"/>
<rect x="1244" y="412" width="3" height="5" fill="#00ff00"/>
<rect x="1253" y="402" width="1" height="20" fill="#000"/>
<rect x="1251" y="403" width="5" height="15" fill="#000"/>
<rect x="1252" y="404" width="3" height="13" fill="#ff0000"/>
<rect x="1261" y="379" width="1" height="30" fill="#000"/>
<rect x="1259" y="385" width="5" height="19" fill="#000"/>
<rect x="1260" y="386" width="3" height="17" fill="#ff0000"/>
<rect x="1269" y="371" width="1" height="57" fill="#000"/>
<rect x="1267" y="378" width="5" height="35" fill="#000"/>
<rect x="1268" y="379" width="3" height="33" fill="#00ff00"/>
<rect x="1277" y="412" width="1" height="51" fill="#000"/>
<rect x="1275" y="412" width="5" height="21" fill="#000"/>
<rect x="1276" y="413" width="3" height="19" fill="#00ff00"/>
<rect x="1285" y="421" width="1" height="36" fill="#000"/>
<rect x="1283" y="431" width="5" height="21" fill="#000"/>
<rect x="1284" y="432" width="3" height="19" fill="#00ff00"/>
</g>
<g fill="#00ff00">
<rect x="4" y="760" width="3" height="25"/>
<rect x="12" y="748" width="3" height="37"/>
<rect x="20" y="735" width="3" height="50"/>
<rect x="28" y="725" width="3" height="60"/>
<rect x="36" y="718" width="3" height="67"/>
<rect x="44" y="715" width="3" height="70"/>
<rect x="52" y="710" width="3" height="75"/>
<rect x="60" y="696" width="3" height="89"/>
<rect x="68" y="694" width="3" height="91"/>
<rect x="76" y="694" width="3" height="91"/>
<rect x="84" y="694" width="3" height="91"/>
<rect x="92" y="699" width="3" height="86"/>
<rect x="100" y="695" width="3" height="90"/>
<rect x="108" y="693" width="3" height="92"/>
<rect x="116" y="687" width="3" height="98"/>
<rect x="124" y="682" width="3" height="103"/>
<rect x="132" y="680" width="3" height="105"/>
<rect x="140" y="680" width="3" height="105"/>
<rect x="148" y="690" width="3" height="95"/>
<rect x="156" y="707" width="3" height="78"/>
<rect x="164" y="722" width="3" height="63"/>
<rect x="172" y="734" width="3" height="51"/>
<rect x="180" y="747" width="3" height="38"/>
<rect x="188" y="756" width="3" height="29"/>
<rect x="196" y="771" width="3" height="14"/>
<rect x="204" y="779" width="3" height="6"/>
<rect x="212" y="785" width="3" height="3"/>
<rect x="220" y="785" width="3" height="6"/>
<rect x="228" y="785" width="3" height="8"/>
<rect x="236" y="785" width="3" height="6"/>
<rect x="244" y="782" width="3" height="3"/>
<rect x="252" y="771" width="3" height="14"/>
<rect x="260" y="763" width="3" height="22"/>
<rect x="268" y="758" width="3" height="27"/>
<rect x="276" y="754" width="3" height="31"/>
<rect x="284" y="750" width="3" height="35"/>
<rect x="292" y="748" width="3" height="37"/>
<rect x="300" y="743" width="3" height="42"/>
<rect x="308" y="739" width="3" height="46"/>
<rect x="316" y="734" width="3" height="51"/>
<rect x="324" y="730" width="3" height="55"/>
<rect x="332" y="729" width="3" height="56"/>
<rect x="340" y="718" width="3" height="67"/>
<rect x="348" y="706" width="3" height="79"/>
<rect x="356" y="692" width="3" height="93"/>
<rect x="364" y="683" width="3" height="102"/>
<rect x="372" y="676" width="3" height="109"/>
<rect x="380" y="675" width="3" height="110"/>
<rect x="388" y="674" width="3" height="111"/>
<rect x="396" y="666" width="3" height="119"/>
<rect x="404" y="667" width="3" height="118"/>
<rect x="412" y="670" width="3" height="115"/>
<rect x="420" y="671" width="3" height="114"/>
<rect x="428" y="675" width="3" height="110"/>
<rect x="436" y="675" width="3" height="110"/>
<rect x="444" y="688" width="3" height="97"/>
<rect x="452" y="695" width="3" height="90"/>
<rect x="460" y="698" width="3" height="87"/>
<rect x="468" y="702" width="3" height="83"/>
<rect x="476" y="709" width="3" height="76"/>
<rect x="484" y="711" width="3" height="74"/>
<rect x="492" y="706" width="3" height="79"/>
<rect x="500" y="704" width="3" height="81"/>
<rect x="508" y="704" width="3" height="81"/>
<rect x="516" y="705" width="3" height="80"/>
<rect x="524" y="708" width="3" height="77"/>
<rect x="532" y="722" width="3" height="63"/>
<rect x="540" y="729" width="3" height="56"/>
<rect x="548" y="739" width="3" height="46"/>
<rect x="556" y="746" width="3" height="39"/>
<rect x="564" y="755" width="3" height="30"/>
<rect x="572" y="763" width="3" height="22"/>
<rect x="580" y="771" width="3" height="14"/>
<rect x="588" y="779" width="3" height="6"/>
<rect x="596" y="783" width="3" height="2"/>
<rect x="604" y="785" width="3" height="4"/>
<rect x="612" y="785" width="3" height="7"/>
<rect x="620" y="784" width="3" height="1"/>
<rect x="628" y="777" width="3" height="8"/>
<rect x="636" y="772" width="3" height="13"/>
<rect x="644" y="767" width="3" height="18"/>
<rect x="652" y="764" width="3" height="21"/>
<rect x="660" y="767" width="3" height="18"/>
<rect x="668" y="766" width="3" height="19"/>
<rect x="676" y="774" width="3" height="11"/>
<rect x="684" y="777" width="3" height="8"/>
<rect x="692" y="775" width="3" height="10"/>
<rect x="700" y="774" width="3" height="11"/>
<rect x="708" y="774" width="3" height="11"/>
<rect x="716" y="785" width="3" height="9"/>
<rect x="724" y="785" width="3" height="26"/>
<rect x="732" y="785" width="3" height="39"/>
<rect x="740" y="785" width="3" height="49"/>
<rect x="748" y="785" width="3" height="54"/>
<rect x="756" y="785" width="3" height="60"/>
<rect x="764" y="785" width="3" height="61"/>
<rect x="772" y="785" width="3" height="64"/>
<rect x="780" y="785" width="3" height="64"/>
<rect x="788" y="785" width="3" height="63"/>
<rect x="796" y="785" width="3" height="63"/>
<rect x="804" y="785" width="3" height="62"/>
<rect x="812" y="785" width="3" height="67"/>
<rect x="820" y="785" width="3" height="65"/>
<rect x="828" y="785" width="3" height="58"/>
<rect x="836" y="785" width="3" height="49"/>
<rect x="844" y="785" width="3" height="42"/>
<rect x="852" y="785" width="3" height="38"/>
<rect x="860" y="785" width="3" height="27"/>
<rect x="868" y="785" width="3" height="16"/>
<rect x="876" y="785" width="3" height="5"/>
<rect x="884" y="779" width="3" height="6"/>
<rect x="892" y="772" width="3" height="13"/>
<rect x="900" y="766" width="3" height="19"/>
<rect x="908" y="761" width="3" height="24"/>
<rect x="916" y="758" width="3" height="27"/>
<rect x="924" y="760" width="3" height="25"/>
<rect x="932" y="761" width="3" height="24"/>
<rect x="940" y="762" width="3" height="23"/>
<rect x="948" y="765" width="3" height="20"/>
<rect x="956" y="768" width="3" height="17"/>
<rect x="964" y="765" width="3" height="20"/>
<rect x="972" y="758" width="3" height="27"/>
<rect x="980" y="752" width="3" height="33"/>
<rect x="988" y="750" width="3" height="35"/>
<rect x="996" y="746" width="3" height="39"/>
<rect x="1004" y="738" width="3" height="47"/>
<rect x="1012" y="733" width="3" height="52"/>
<rect x="1020" y="732" width="3" height="53"/>
<rect x="1028" y="732" width="3" height="53"/>
<rect x="1036" y="735" width="3" height="50"/>
<rect x="1044" y="740" width="3" height="45"/>
<rect x="1052" y="749" width="3" height="36"/>
<rect x="1060" y="757" width="3" height="28"/>
<rect x="1068" y="764" width="3" height="21"/>
<rect x="1076" y="771" width="3" height="14"/>
<rect x="1084" y="772" width="3" height="13"/>
<rect x="1092" y="780" width="3" height="5"/>
<rect x="1100" y="784" width="3" height="1"/>
<rect x="1108" y="785" width="3" height="4"/>
<rect x="1116" y="785" width="3" height="7"/>
<rect x="1124" y="785" width="3" height="13"/>
<rect x="1132" y="785" width="3" height="23"/>
<rect x="1140" y="785" width="3" height="33"/>
<rect x="1148" y="785" width="3" height="48"/>
<rect x="1156" y="785" width="3" height="55"/>
<rect x="1164" y="785" width="3" height="61"/>
<rect x="1172" y="785" width="3" height="65"/>
<rect x="1180" y="785" width="3" height="63"/>
<rect x="1188" y="785" width="3" height="67"/>
<rect x="1196" y="785" width="3" height="69"/>
<rect x="1204" y="785" width="3" height="65"/>
<rect x="1212" y="785" width="3" height="64"/>
<rect x="1220" y="785" width="3" height="71"/>
<rect x="1228" y="785" width="3" height="72"/>
<rect x="1236" y="785" width="3" height="72"/>
<rect x="1244" y="785" width="3" height="71"/>
<rect x="1252" y="785" width="3" height="68"/>
<rect x="1260" y="785" width="3" height="63"/>
<rect x="1268" y="785" width="3" height="62"/>
<rect x="1276" y="785" width="3" height="62"/>
<rect x="1284" y="785" width="3" height="63"/>
</g>
<polyline points="5.5,781.5 13.5,776.5 21.5,769.1 29.5,760.5 37.5,751.5 45.5,744.9 53.5,739.1 61.5,730.5 69.5,721.5 77.5,715.5 85.5,709.2 93.5,705.5 101.5,702.5 109.5,699.9 117.5,696.7 125.5,693.7 133.5,691.7 141.5,689.7 149.5,689.2 157.5,690.5 165.5,693.5 173.5,697.9 181.5,704.2 189.5,712.5 197.5,721.7 205.5,732.9 213.5,746.6 221.5,757.9 229.5,766.6 237.5,774.1 245.5,779.1 253.5,781.1 261.5,781.3 269.5,780.3 277.5,777.3 285.5,773.6 293.5,769.1 301.5,763.4 309.5,757.4 317.5,752.1 325.5,747.1 333.5,743.4 341.5,739.1 349.5,734.1 357.5,727.9 365.5,720.4 373.5,712.4 381.5,704.9 389.5,697.4 397.5,690.0 405.5,683.7 413.5,679.2 421.5,676.0 429.5,673.7 437.5,673.5 445.5,674.7 453.5,677.0 461.5,680.0 469.5,683.7 477.5,688.0 485.5,693.0 493.5,696.2 501.5,699.9 509.5,702.9 517.5,704.9 525.5,706.2 533.5,709.2 541.5,712.2 549.5,714.9 557.5,719.2 565.5,724.9 573.5,731.7 581.5,739.9 589.5,748.4 597.5,756.6 605.5,763.3 613.5,769.6 621.5,774.9 629.5,777.8 637.5,779.3 645.5,779.3 653.5,778.8 661.5,777.8 669.5,775.8 677.5,774.6 685.5,772.9 693.5,771.9 701.5,771.4 709.5,771.9 717.5,774.9 725.5,779.6 733.5,786.1 741.5,794.1 749.5,801.6 757.5,809.1 765.5,817.3 773.5,825.8 781.5,833.3 789.5,839.0 797.5,842.8 805.5,845.3 813.5,847.3 821.5,847.5 829.5,847.5 837.5,846.8 845.5,843.3 853.5,840.3 861.5,836.5 869.5,831.5 877.5,824.8 885.5,816.5 893.5,807.3 901.5,799.1 909.5,790.3 917.5,782.8 925.5,777.1 933.5,772.4 941.5,767.9 949.5,765.4 957.5,763.9 965.5,763.4 973.5,762.9 981.5,761.9 989.5,760.9 997.5,758.4 1005.5,756.3 1013.5,752.9 1021.5,749.1 1029.5,745.4 1037.5,742.4 1045.5,740.9 1053.5,740.6 1061.5,741.1 1069.5,743.4 1077.5,747.1 1085.5,751.1 1093.5,755.9 1101.5,762.1 1109.5,767.9 1117.5,773.6 1125.5,779.1 1133.5,784.8 1141.5,791.6 1149.5,799.1 1157.5,806.1 1165.5,813.3 1173.5,820.3 1181.5,827.3 1189.5,833.3 1197.5,839.5 1205.5,843.1 1213.5,847.0 1221.5,849.0 1229.5,851.0 1237.5,852.3 1245.5,853.0 1253.5,853.3 1261.5,852.8 1269.5,852.0 1277.5,851.5 1285.5,851.5" fill="none" stroke="#ff0000" stroke-width="2.2" stroke-linejoin="round" shape-rendering="geometricPrecision"/>
<rect x="5" y="269" width="1618" height="3" fill="#000"/>
<rect x="5" y="343" width="1618" height="3" fill="#000"/>
<rect x="5" y="407" width="1618" height="3" fill="#0000cd"/>
<rect x="5" y="471" width="1618" height="3" fill="#0000cd"/>
<g shape-rendering="geometricPrecision"><line x1="1293.4" y1="411.2" x2="1311.6" y2="512" stroke="#ff0000" stroke-width="5.8" stroke-linecap="round"/>
<polygon points="1316.9,540.4 1298.5,507.3 1322.2,502.8" fill="#ff0000"/></g>
<rect x="0" y="0" width="4" height="889" fill="#fff"/>
<rect x="0" y="0" width="1670" height="1" fill="#a0a0a0"/>
<rect x="0" y="0" width="1" height="888" fill="#a0a0a0"/>
<rect x="1" y="1" width="1668" height="1" fill="#696969"/>
<rect x="1" y="1" width="1" height="886" fill="#696969"/>
<rect x="1669" y="2" width="1" height="886" fill="#e3e3e3"/>
<rect x="2" y="887" width="1668" height="1" fill="#e3e3e3"/>
<rect x="4" y="4" width="1620" height="1" fill="#000"/>
<rect x="4" y="4" width="1" height="650" fill="#000"/>
<rect x="4" y="653" width="1620" height="1" fill="#000"/>
<rect x="1623" y="4" width="1" height="650" fill="#000"/>
<rect x="4" y="655" width="1620" height="1" fill="#000"/>
<rect x="4" y="655" width="1" height="212" fill="#000"/>
<rect x="4" y="866" width="1620" height="1" fill="#000"/>
<rect x="1623" y="655" width="1" height="212" fill="#000"/>
<rect x="1624" y="657" width="1" height="1" fill="#000"/>
<rect x="1624" y="865" width="1" height="1" fill="#000"/>
<rect x="1293" y="5" width="9" height="1" fill="#778899"/>
<rect x="1294" y="6" width="7" height="1" fill="#778899"/>
<rect x="1295" y="7" width="5" height="1" fill="#778899"/>
<rect x="1296" y="8" width="3" height="1" fill="#778899"/>
<rect x="1297" y="9" width="1" height="1" fill="#778899"/>
<rect x="8" y="11" width="7" height="1" fill="#000"/>
<rect x="9" y="12" width="5" height="1" fill="#000"/>
<rect x="10" y="13" width="3" height="1" fill="#000"/>
<rect x="11" y="14" width="1" height="1" fill="#000"/>
<g shape-rendering="auto">
<rect x="1624" y="23" width="2" height="1" fill="#000" shape-rendering="crispEdges"/>
<text x="1628.6" y="26.7" textLength="33.2" lengthAdjust="spacingAndGlyphs">34001.0</text>
<rect x="1624" y="56" width="2" height="1" fill="#000" shape-rendering="crispEdges"/>
<text x="1628.6" y="59.7" textLength="33.2" lengthAdjust="spacingAndGlyphs">33857.0</text>
<rect x="1624" y="89" width="2" height="1" fill="#000" shape-rendering="crispEdges"/>
<text x="1628.6" y="92.7" textLength="33.2" lengthAdjust="spacingAndGlyphs">33709.0</text>
<rect x="1624" y="122" width="2" height="1" fill="#000" shape-rendering="crispEdges"/>
<text x="1628.6" y="125.7" textLength="33.2" lengthAdjust="spacingAndGlyphs">33561.0</text>
<rect x="1624" y="155" width="2" height="1" fill="#000" shape-rendering="crispEdges"/>
<text x="1628.6" y="158.7" textLength="33.2" lengthAdjust="spacingAndGlyphs">33413.0</text>
<rect x="1624" y="188" width="2" height="1" fill="#000" shape-rendering="crispEdges"/>
<text x="1628.6" y="191.7" textLength="33.2" lengthAdjust="spacingAndGlyphs">33265.0</text>
<rect x="1624" y="221" width="2" height="1" fill="#000" shape-rendering="crispEdges"/>
<text x="1628.6" y="224.7" textLength="33.2" lengthAdjust="spacingAndGlyphs">33117.0</text>
<rect x="1624" y="254" width="2" height="1" fill="#000" shape-rendering="crispEdges"/>
<text x="1628.6" y="257.7" textLength="33.2" lengthAdjust="spacingAndGlyphs">32973.0</text>
<rect x="1624" y="287" width="2" height="1" fill="#000" shape-rendering="crispEdges"/>
<text x="1628.6" y="290.7" textLength="33.2" lengthAdjust="spacingAndGlyphs">32825.0</text>
<rect x="1624" y="320" width="2" height="1" fill="#000" shape-rendering="crispEdges"/>
<text x="1628.6" y="323.7" textLength="33.2" lengthAdjust="spacingAndGlyphs">32677.0</text>
<rect x="1624" y="353" width="2" height="1" fill="#000" shape-rendering="crispEdges"/>
<text x="1628.6" y="356.7" textLength="33.2" lengthAdjust="spacingAndGlyphs">32529.0</text>
<rect x="1624" y="386" width="2" height="1" fill="#000" shape-rendering="crispEdges"/>
<text x="1628.6" y="389.7" textLength="33.2" lengthAdjust="spacingAndGlyphs">32381.0</text>
<rect x="1624" y="419" width="2" height="1" fill="#000" shape-rendering="crispEdges"/>
<text x="1628.6" y="422.7" textLength="33.2" lengthAdjust="spacingAndGlyphs">32237.0</text>
<rect x="1624" y="452" width="2" height="1" fill="#000" shape-rendering="crispEdges"/>
<rect x="1624" y="485" width="2" height="1" fill="#000" shape-rendering="crispEdges"/>
<text x="1628.6" y="488.7" textLength="33.2" lengthAdjust="spacingAndGlyphs">31941.0</text>
<rect x="1624" y="518" width="2" height="1" fill="#000" shape-rendering="crispEdges"/>
<text x="1628.6" y="521.7" textLength="33.2" lengthAdjust="spacingAndGlyphs">31793.0</text>
<rect x="1624" y="551" width="2" height="1" fill="#000" shape-rendering="crispEdges"/>
<text x="1628.6" y="554.7" textLength="33.2" lengthAdjust="spacingAndGlyphs">31645.0</text>
<rect x="1624" y="584" width="2" height="1" fill="#000" shape-rendering="crispEdges"/>
<text x="1628.6" y="587.7" textLength="33.2" lengthAdjust="spacingAndGlyphs">31497.0</text>
<rect x="1624" y="617" width="2" height="1" fill="#000" shape-rendering="crispEdges"/>
<text x="1628.6" y="620.7" textLength="33.2" lengthAdjust="spacingAndGlyphs">31353.0</text>
<rect x="1624" y="650" width="2" height="1" fill="#000" shape-rendering="crispEdges"/>
<text x="1628.6" y="653.7" textLength="33.2" lengthAdjust="spacingAndGlyphs">31205.0</text>
<rect x="1625" y="264" width="41" height="11" fill="#000" shape-rendering="crispEdges"/>
<rect x="1624" y="269" width="1" height="1" fill="#000" shape-rendering="crispEdges"/>
<text class="w" x="1628.6" y="272.7" textLength="33.2" lengthAdjust="spacingAndGlyphs">32900.0</text>
<rect x="1625" y="338" width="41" height="11" fill="#000" shape-rendering="crispEdges"/>
<rect x="1624" y="343" width="1" height="1" fill="#000" shape-rendering="crispEdges"/>
<text class="w" x="1628.6" y="346.7" textLength="33.2" lengthAdjust="spacingAndGlyphs">32570.7</text>
<rect x="1625" y="402" width="41" height="11" fill="#0000cd" shape-rendering="crispEdges"/>
<rect x="1624" y="407" width="1" height="1" fill="#000" shape-rendering="crispEdges"/>
<text class="w" x="1628.6" y="410.7" textLength="33.2" lengthAdjust="spacingAndGlyphs">32284.5</text>
<rect x="1625" y="446" width="41" height="11" fill="#000" shape-rendering="crispEdges"/>
<rect x="1624" y="451" width="1" height="1" fill="#000" shape-rendering="crispEdges"/>
<text class="w" x="1628.6" y="454.7" textLength="33.2" lengthAdjust="spacingAndGlyphs">32093.7</text>
<rect x="1625" y="466" width="41" height="11" fill="#0000cd" shape-rendering="crispEdges"/>
<rect x="1624" y="471" width="1" height="1" fill="#000" shape-rendering="crispEdges"/>
<text class="w" x="1628.6" y="474.7" textLength="33.2" lengthAdjust="spacingAndGlyphs">32000.0</text>
<text x="1626.6" y="665.7" textLength="28.7" lengthAdjust="spacingAndGlyphs">420.25</text>
<rect x="1624" y="785" width="1" height="1" fill="#000" shape-rendering="crispEdges"/>
<text x="1626.6" y="788.7" textLength="18.5" lengthAdjust="spacingAndGlyphs">0.00</text>
<text x="1626.6" y="862.7" textLength="31.6" lengthAdjust="spacingAndGlyphs">-264.58</text>
<text x="19.8" y="15.7" textLength="50.6" lengthAdjust="spacingAndGlyphs">JPN225-,H4</text>
<text x="75.7" y="15.7" textLength="141.2" lengthAdjust="spacingAndGlyphs">32180.8 32225.5 32070.7 32093.7</text>
<text x="8.5" y="667.7" textLength="134.6" lengthAdjust="spacingAndGlyphs">MACD(12,26,9) -204.96 -217.17</text>
<rect x="5" y="867" width="1" height="3" fill="#000" shape-rendering="crispEdges"/>
<text x="4" y="878.7" textLength="45.3" lengthAdjust="spacingAndGlyphs">2 Jun 2023</text>
<rect x="69" y="867" width="1" height="3" fill="#000" shape-rendering="crispEdges"/>
<text x="67.6" y="878.7" textLength="48.3" lengthAdjust="spacingAndGlyphs">5 Jun 10:55</text>
<rect x="133" y="867" width="1" height="3" fill="#000" shape-rendering="crispEdges"/>
<text x="131.6" y="878.7" textLength="48.3" lengthAdjust="spacingAndGlyphs">6 Jun 18:55</text>
<rect x="197" y="867" width="1" height="3" fill="#000" shape-rendering="crispEdges"/>
<text x="195.6" y="878.7" textLength="48.3" lengthAdjust="spacingAndGlyphs">8 Jun 00:00</text>
<rect x="261" y="867" width="1" height="3" fill="#000" shape-rendering="crispEdges"/>
<text x="259.6" y="878.7" textLength="48.3" lengthAdjust="spacingAndGlyphs">9 Jun 10:55</text>
<rect x="325" y="867" width="1" height="3" fill="#000" shape-rendering="crispEdges"/>
<text x="323.6" y="878.7" textLength="53.3" lengthAdjust="spacingAndGlyphs">12 Jun 18:55</text>
<rect x="389" y="867" width="1" height="3" fill="#000" shape-rendering="crispEdges"/>
<text x="387.6" y="878.7" textLength="53.3" lengthAdjust="spacingAndGlyphs">14 Jun 00:00</text>
<rect x="453" y="867" width="1" height="3" fill="#000" shape-rendering="crispEdges"/>
<text x="451.6" y="878.7" textLength="53.3" lengthAdjust="spacingAndGlyphs">15 Jun 10:55</text>
<rect x="517" y="867" width="1" height="3" fill="#000" shape-rendering="crispEdges"/>
<text x="515.6" y="878.7" textLength="53.3" lengthAdjust="spacingAndGlyphs">16 Jun 18:55</text>
<rect x="581" y="867" width="1" height="3" fill="#000" shape-rendering="crispEdges"/>
<text x="579.6" y="878.7" textLength="53.3" lengthAdjust="spacingAndGlyphs">20 Jun 04:00</text>
<rect x="645" y="867" width="1" height="3" fill="#000" shape-rendering="crispEdges"/>
<text x="643.6" y="878.7" textLength="53.3" lengthAdjust="spacingAndGlyphs">21 Jun 14:55</text>
<rect x="709" y="867" width="1" height="3" fill="#000" shape-rendering="crispEdges"/>
<text x="707.6" y="878.7" textLength="53.3" lengthAdjust="spacingAndGlyphs">22 Jun 23:30</text>
<rect x="773" y="867" width="1" height="3" fill="#000" shape-rendering="crispEdges"/>
<text x="771.6" y="878.7" textLength="53.3" lengthAdjust="spacingAndGlyphs">26 Jun 04:00</text>
<rect x="837" y="867" width="1" height="3" fill="#000" shape-rendering="crispEdges"/>
<text x="835.6" y="878.7" textLength="53.3" lengthAdjust="spacingAndGlyphs">27 Jun 14:55</text>
<rect x="901" y="867" width="1" height="3" fill="#000" shape-rendering="crispEdges"/>
<text x="899.6" y="878.7" textLength="53.3" lengthAdjust="spacingAndGlyphs">28 Jun 23:30</text>
<rect x="965" y="867" width="1" height="3" fill="#000" shape-rendering="crispEdges"/>
<text x="963.6" y="878.7" textLength="53.3" lengthAdjust="spacingAndGlyphs">30 Jun 04:00</text>
<rect x="1029" y="867" width="1" height="3" fill="#000" shape-rendering="crispEdges"/>
<text x="1027.6" y="878.7" textLength="45.3" lengthAdjust="spacingAndGlyphs">3 Jul 14:55</text>
<rect x="1093" y="867" width="1" height="3" fill="#000" shape-rendering="crispEdges"/>
<text x="1091.6" y="878.7" textLength="45.3" lengthAdjust="spacingAndGlyphs">5 Jul 04:00</text>
<rect x="1157" y="867" width="1" height="3" fill="#000" shape-rendering="crispEdges"/>
<text x="1155.6" y="878.7" textLength="45.3" lengthAdjust="spacingAndGlyphs">6 Jul 14:55</text>
<rect x="1221" y="867" width="1" height="3" fill="#000" shape-rendering="crispEdges"/>
<text x="1219.6" y="878.7" textLength="50.3" lengthAdjust="spacingAndGlyphs">10 Jul 00:00</text>
<rect x="1285" y="867" width="1" height="3" fill="#000" shape-rendering="crispEdges"/>
<text x="1283.6" y="878.7" textLength="50.3" lengthAdjust="spacingAndGlyphs">11 Jul 06:55</text>
</g>
</svg></body></html>
